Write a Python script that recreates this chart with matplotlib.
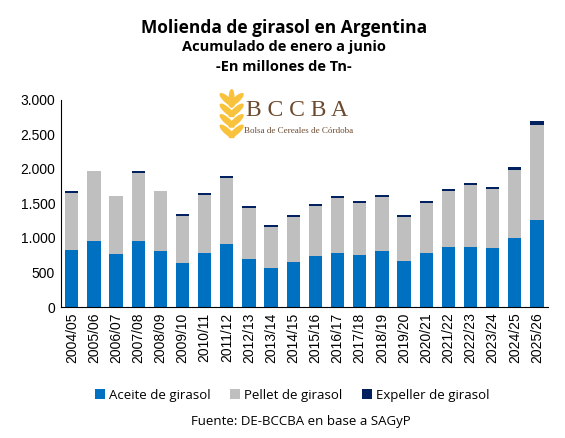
import numpy as np
import matplotlib
matplotlib.use("Agg")
from matplotlib import pyplot as plt
from matplotlib.patches import Ellipse

campanas = ['2004/05', '2005/06', '2006/07', '2007/08', '2008/09', '2009/10',
            '2010/11', '2011/12', '2012/13', '2013/14', '2014/15', '2015/16',
            '2016/17', '2017/18', '2018/19', '2019/20', '2020/21', '2021/22',
            '2022/23', '2023/24', '2024/25', '2025/26']
aceite = [822, 953, 764, 953, 808, 634, 779, 910, 692, 561, 648, 735,
          779, 750, 808, 663, 779, 866, 866, 851, 997, 1258]
pellet = [828, 1016, 842, 987, 871, 682, 842, 957, 740, 595, 653, 726,
          798, 755, 784, 638, 726, 813, 900, 857, 987, 1379]
expeller = [29, 0, 0, 29, 0, 29, 29, 30, 29, 29, 29, 29,
            29, 29, 29, 29, 29, 29, 29, 29, 43, 58]

c_aceite = '#0070C0'
c_pellet = '#BFBFBF'
c_expeller = '#002060'

fig = plt.figure(figsize=(5.65, 4.38), dpi=100)
ax = fig.add_axes([0.1074, 0.299, 0.8626, 0.473])

x = np.arange(len(campanas))
a = np.array(aceite)
p = np.array(pellet)
e = np.array(expeller)
ax.bar(x, a, width=0.6, color=c_aceite, label='Aceite de girasol')
ax.bar(x, p, width=0.6, bottom=a, color=c_pellet, label='Pellet de girasol')
ax.bar(x, e, width=0.6, bottom=a + p, color=c_expeller, label='Expeller de girasol')

ax.set_xlim(-0.5, len(campanas) - 0.5)
ax.set_ylim(0, 3000)
ax.set_yticks(np.arange(0, 3001, 500))
ax.set_yticklabels(['0', '500', '1.000', '1.500', '2.000', '2.500', '3.000'],
                   family='Liberation Sans', fontsize=10)
ax.set_xticks(x)
ax.set_xticklabels(campanas, rotation=90, family='Liberation Sans', fontsize=10)
ax.tick_params(axis='both', length=0, pad=4)
for s in ['top', 'right']:
    ax.spines[s].set_visible(False)
ax.spines['left'].set_color('black')
ax.spines['bottom'].set_color('black')

# titulos
fig.text(0.503, 0.937, 'Molienda de girasol en Argentina', ha='center', va='center',
         family='Open Sans', fontweight='bold', fontsize=12.5)
fig.text(0.503, 0.892, 'Acumulado de enero a junio', ha='center', va='center',
         family='Open Sans', fontweight='bold', fontsize=10.5)
fig.text(0.503, 0.847, '-En millones de Tn-', ha='center', va='center',
         family='Open Sans', fontweight='bold', fontsize=10.5)

# logo
fig.text(0.436, 0.748, 'B C C B A', ha='left', va='center', family='Liberation Serif',
         fontsize=17, color='#6B4A2F')
fig.text(0.432, 0.700, 'Bolsa de Cereales de Córdoba', ha='left', va='center',
         family='Liberation Serif', fontsize=6.5, color='#6B4A2F')
gold = '#F9C23C'
for i in range(4):
    yy = 0.772 - i * 0.024
    fig.patches.append(Ellipse((0.402, yy), 0.010, 0.036, angle=40, color=gold,
                               transform=fig.transFigure, figure=fig))
    fig.patches.append(Ellipse((0.418, yy), 0.010, 0.036, angle=-40, color=gold,
                               transform=fig.transFigure, figure=fig))
fig.patches.append(Ellipse((0.410, 0.775), 0.008, 0.040, color=gold,
                           transform=fig.transFigure, figure=fig))

fig.legend(loc='center', bbox_to_anchor=(0.517, 0.098), ncol=3, frameon=False,
           prop={'family': 'Open Sans', 'size': 9.5}, handlelength=0.8,
           handleheight=0.8, handletextpad=0.3, columnspacing=1.45)
fig.text(0.533, 0.038, 'Fuente: DE-BCCBA en base a SAGyP', ha='center', va='center',
         family='Open Sans', fontsize=9.5)

fig.savefig('out.png', dpi=100)
